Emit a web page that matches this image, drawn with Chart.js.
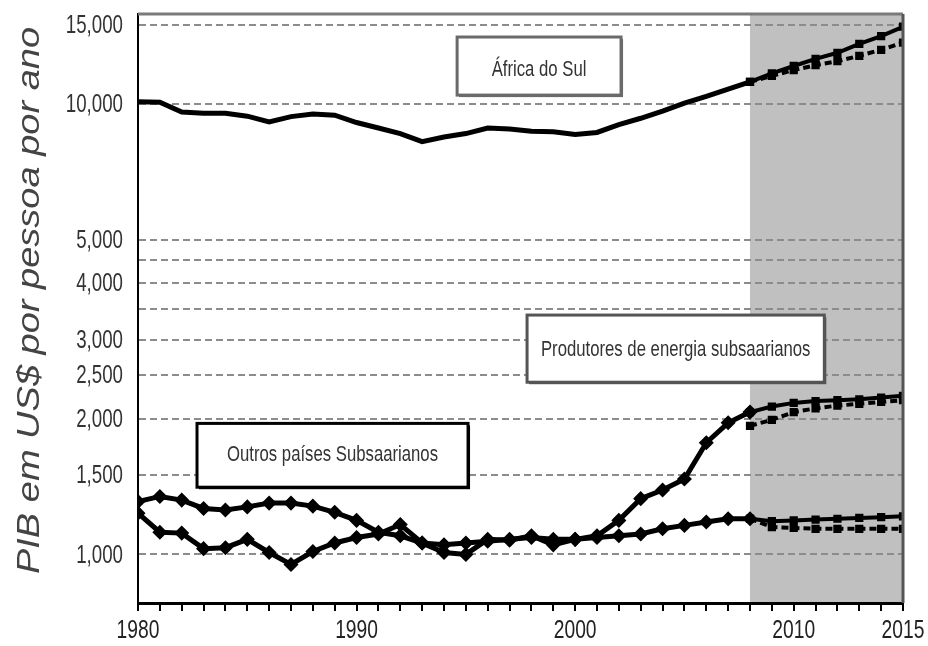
<!DOCTYPE html>
<html>
<head>
<meta charset="utf-8">
<script src="https://cdn.jsdelivr.net/npm/chart.js@4.4.1/dist/chart.umd.min.js"></script>
<style>
  html, body { margin: 0; padding: 0; background: #fff; }
  #wrap { width: 928px; height: 646px; }
</style>
</head>
<body>
<div id="wrap"><canvas id="pibChart" width="928" height="646"></canvas></div>
<script>
// anos
const histYears = [1980,1981,1982,1983,1984,1985,1986,1987,1988,1989,1990,1991,1992,1993,1994,
  1995,1996,1997,1998,1999,2000,2001,2002,2003,2004,2005,2006,2007,2008];
const projYears = [2008,2009,2010,2011,2012,2013,2014,2015];

// Africa do Sul
const africaSulHist = [10120,10100,9600,9540,9540,9400,9130,9380,9500,9450,9100,8850,8600,8250,8450,
  8600,8850,8800,8700,8680,8560,8650,9000,9300,9650,10050,10400,10800,11200];
const africaSulProj = [11200,11700,12150,12600,13000,13600,14150,14850];
const africaSulProjAlt = [11200,11550,11900,12200,12450,12800,13200,13700];

// Produtores de energia subsaarianos
const energiaHist = [1310,1345,1320,1265,1255,1275,1300,1300,1280,1240,1190,1120,1100,1060,1050,
  1060,1070,1080,1090,1080,1080,1100,1190,1330,1390,1470,1770,1960,2070];
const energiaProj = [2070,2130,2170,2190,2200,2210,2230,2250];
const energiaProjAlt = [1930,1990,2070,2110,2140,2160,2180,2200];

// Outros paises Subsaarianos
const outrosHist = [1235,1120,1115,1030,1035,1080,1010,950,1015,1060,1090,1110,1165,1060,1010,
  1000,1080,1075,1100,1050,1080,1090,1100,1110,1140,1160,1180,1200,1200];
const outrosProj = [1200,1185,1190,1195,1200,1205,1210,1215];
const outrosProjAlt = [1200,1150,1145,1140,1140,1140,1140,1140];

const yTicks = [1000,1500,2000,2500,3000,3500,4000,4500,5000,10000,15000];
const yLabels = [1000,1500,2000,2500,3000,4000,5000,10000,15000];
const xLabels = [1980,1990,2000,2010,2015];
const projStart = 2008;
const yTitle = 'PIB em US$ por pessoa por ano';

// caixas de texto (em unidades dos eixos)
const boxes = [
  {text:'África do Sul', x1:1994.6, x2:2002.1, y1:14090, y2:10470, yText:11900, border:'#6a6a6a'},
  {text:'Produtores de energia subsaarianos', x1:1997.8, x2:2011.4, y1:3400, y2:2412, yText:2839, border:'#555'},
  {text:'Outros países Subsaarianos', x1:1982.7, x2:1995.1, y1:1954, y2:1410, yText:1660, border:'#000'}
];

const FONT = "'Liberation Sans', Arial, sans-serif";

function pts(years, vals){
  return years.map((y,i) => ({x:y, y:vals[i]}));
}

// texto estreito (a fonte do original e comprimida na horizontal)
function narrowText(ctx, text, x, y, size, align, sx, color){
  ctx.save();
  ctx.translate(x, y);
  ctx.scale(sx, 1);
  ctx.font = size + 'px ' + FONT;
  ctx.fillStyle = color;
  ctx.textAlign = align;
  ctx.textBaseline = 'middle';
  ctx.fillText(text, 0, 0);
  ctx.restore();
}

const shadePlugin = {
  id: 'shade',
  beforeDraw(chart){
    const {ctx, chartArea, scales} = chart;
    const x0 = scales.x.getPixelForValue(projStart);
    ctx.save();
    ctx.fillStyle = '#c0c0c0';
    ctx.fillRect(x0, chartArea.top, chartArea.right - x0, chartArea.bottom - chartArea.top);
    ctx.restore();
  },
  afterDraw(chart){
    const {ctx, chartArea, scales} = chart;
    ctx.save();
    ctx.strokeStyle = '#7a7a7a';
    ctx.lineWidth = 3;
    ctx.beginPath();
    ctx.moveTo(chartArea.left, chartArea.top);
    ctx.lineTo(chartArea.right, chartArea.top);
    ctx.stroke();
    ctx.strokeStyle = '#555';
    ctx.beginPath();
    ctx.moveTo(chartArea.right, chartArea.top);
    ctx.lineTo(chartArea.right, chartArea.bottom);
    ctx.stroke();
    ctx.restore();

    // rotulos dos eixos
    yLabels.forEach(v => {
      narrowText(ctx, v.toLocaleString('en-US'), chartArea.left - 15,
        scales.y.getPixelForValue(v) + 1, 26, 'right', 0.72, '#333');
    });
    xLabels.forEach(v => {
      narrowText(ctx, String(v), scales.x.getPixelForValue(v), chartArea.bottom + 28, 25, 'center', 0.77, '#222');
    });

    // titulo do eixo y
    ctx.save();
    ctx.translate(30, (chartArea.top + chartArea.bottom) / 2 - 8);
    ctx.rotate(-Math.PI / 2);
    ctx.scale(1, 0.84);
    ctx.font = 'italic 38px ' + FONT;
    ctx.fillStyle = '#444';
    ctx.textAlign = 'center';
    ctx.textBaseline = 'middle';
    ctx.fillText(yTitle, 0, 0);
    ctx.restore();
  }
};

const boxPlugin = {
  id: 'boxes',
  afterDatasetsDraw(chart){
    const {ctx, scales} = chart;
    ctx.save();
    boxes.forEach(b => {
      const l = scales.x.getPixelForValue(b.x1);
      const r = scales.x.getPixelForValue(b.x2);
      const t = scales.y.getPixelForValue(b.y1);
      const bt = scales.y.getPixelForValue(b.y2);
      ctx.fillStyle = b.border;
      ctx.fillRect(l + 2, t + 2, r - l, bt - t);
      ctx.fillStyle = '#fff';
      ctx.fillRect(l, t, r - l, bt - t);
      ctx.strokeStyle = b.border;
      ctx.lineWidth = 3;
      ctx.strokeRect(l, t, r - l, bt - t);
      narrowText(ctx, b.text, (l + r) / 2, scales.y.getPixelForValue(b.yText), 22, 'center', 0.76, '#333');
    });
    ctx.restore();
  }
};

function histSet(vals, markers){
  return {
    data: pts(histYears, vals),
    borderColor: '#000',
    backgroundColor: '#000',
    borderWidth: 5,
    pointStyle: 'rectRot',
    pointRadius: markers ? 4 : 0,
    tension: 0
  };
}
function projSet(vals, dashed){
  return {
    data: pts(projYears, vals),
    borderColor: '#000',
    backgroundColor: '#000',
    borderWidth: 4,
    borderDash: dashed ? [7,4] : [],
    pointStyle: 'rect',
    pointRadius: 3,
    tension: 0
  };
}

const config = {
  type: 'line',
  data: {
    datasets: [
      histSet(africaSulHist, false),
      projSet(africaSulProj, false),
      projSet(africaSulProjAlt, true),
      histSet(energiaHist, true),
      projSet(energiaProj, false),
      projSet(energiaProjAlt, true),
      histSet(outrosHist, true),
      projSet(outrosProj, false),
      projSet(outrosProjAlt, true)
    ]
  },
  options: {
    responsive: false,
    animation: false,
    layout: { padding: { top: 14, right: 25, left: 0, bottom: 0 } },
    plugins: { legend: { display: false }, tooltip: { enabled: false } },
    scales: {
      x: {
        type: 'linear',
        min: 1980,
        max: 2015,
        afterFit(scale){ scale.height = 43; },
        ticks: { stepSize: 1, autoSkip: false, maxRotation: 0, display: false },
        grid: { drawOnChartArea: false, drawTicks: true, tickLength: 8, color: '#000', lineWidth: 2 },
        border: { color: '#000', width: 3 }
      },
      y: {
        type: 'logarithmic',
        min: 780,
        max: 15850,
        afterFit(scale){ scale.width = 138; },
        afterBuildTicks(scale){ scale.ticks = yTicks.map(v => ({value: v})); },
        ticks: { display: false },
        grid: { drawTicks: false, color: '#8c8c8c', lineWidth: 2 },
        border: { color: '#000', width: 2, dash: [7,4] }
      }
    }
  },
  plugins: [shadePlugin, boxPlugin]
};

const pibChart = new Chart(document.getElementById('pibChart'), config);
</script>
</body>
</html>
